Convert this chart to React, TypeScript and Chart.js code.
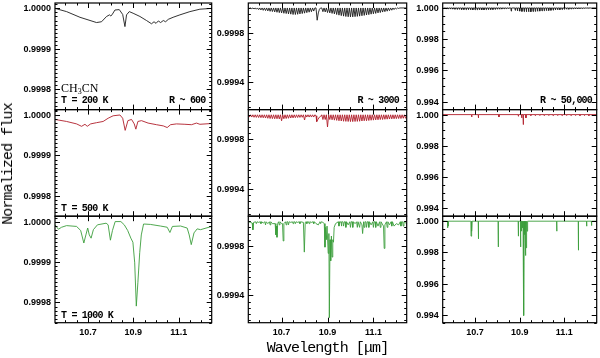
import React, { useEffect, useRef } from "react";
import { Chart, registerables } from "chart.js";
Chart.register(...registerables);

// ---------------- data ----------------
const X_MIN = 10.555;
const X_MAX = 11.245;
const xTickLabels = [10.7, 10.9, 11.1];

// R ~ 600 panels (smooth)
const c1r1X = [10.555, 10.606, 10.665, 10.738, 10.760, 10.782, 10.795, 10.801, 10.808, 10.819, 10.838, 10.853, 10.863, 10.870, 10.882, 10.899, 10.929, 10.958, 10.980, 10.991, 11.000, 11.010, 11.020, 11.032, 11.042, 11.054, 11.075, 11.105, 11.149, 11.193, 11.245];
const c1r1Y = [1.0, 0.999992, 0.999978, 0.999965, 0.999967, 0.99998, 0.999984, 0.999981, 0.999986, 0.999996, 0.999997, 0.999985, 0.999955, 0.999984, 0.999992, 0.999988, 0.99998, 0.99997, 0.999962, 0.999967, 0.999963, 0.999969, 0.999965, 0.99997, 0.999967, 0.999973, 0.999978, 0.999984, 0.999992, 0.999998, 1.0];

const c1r2X = [10.555, 10.606, 10.650, 10.672, 10.687, 10.697, 10.712, 10.738, 10.767, 10.789, 10.811, 10.841, 10.853, 10.864, 10.876, 10.892, 10.904, 10.911, 10.920, 10.936, 10.965, 11.002, 11.032, 11.049, 11.064, 11.090, 11.127, 11.156, 11.178, 11.193, 11.245];
const c1r2Y = [0.999989, 0.999984, 0.999978, 0.999972, 0.999977, 0.999972, 0.999978, 0.999981, 0.999984, 0.999992, 0.999998, 1.0, 0.999992, 0.999962, 0.999986, 0.999989, 0.999978, 0.999965, 0.999984, 0.999986, 0.99998, 0.999976, 0.999973, 0.999969, 0.999976, 0.999978, 0.999977, 0.999976, 0.99998, 0.999977, 0.999979];

const c1r3X = [10.555, 10.570, 10.584, 10.606, 10.650, 10.668, 10.682, 10.691, 10.699, 10.706, 10.714, 10.724, 10.742, 10.780, 10.789, 10.799, 10.808, 10.820, 10.845, 10.860, 10.875, 10.889, 10.898, 10.906, 10.913, 10.920, 10.928, 10.935, 10.945, 10.975, 11.019, 11.049, 11.061, 11.072, 11.108, 11.137, 11.146, 11.155, 11.167, 11.181, 11.196, 11.245];
const c1r3Y = [0.999992, 0.999981, 0.999986, 0.99999, 0.999988, 0.999978, 0.999947, 0.999967, 0.999984, 0.999967, 0.999959, 0.99998, 0.999992, 0.999996, 0.999992, 0.999954, 0.999978, 1.0, 1.0, 0.999992, 0.999978, 0.999959, 0.999949, 0.999898, 0.999791, 0.99985, 0.999923, 0.999967, 0.999994, 0.999993, 0.999989, 0.999986, 0.999973, 0.999988, 0.999989, 0.999984, 0.999967, 0.999943, 0.999972, 0.999982, 0.99998, 0.999988];

// R ~ 3000 panels
const c2r1ShapeX = [10.555, 10.850, 10.855, 10.860, 10.865, 10.870, 11.220, 11.245];
const c2r1ShapeY = [1.0, 1.0, 0.999901, 0.99996, 0.99999, 1.0, 1.0, 1.0];
const c2r1LineX = [10.56, 10.57, 10.58, 10.59, 10.60, 10.61, 10.62, 10.63, 10.64, 10.65, 10.66, 10.67, 10.68, 10.69, 10.70, 10.71, 10.72, 10.73, 10.74, 10.75, 10.76, 10.77, 10.78, 10.79, 10.80, 10.81, 10.82, 10.83, 10.84,
  10.88, 10.89, 10.90, 10.91, 10.92, 10.93, 10.94, 10.95, 10.96, 10.97, 10.98, 10.99, 11.00, 11.01, 11.02, 11.03, 11.04, 11.05, 11.06, 11.07, 11.08, 11.09, 11.10, 11.11, 11.12, 11.13, 11.14, 11.15, 11.16, 11.17, 11.18, 11.19, 11.20, 11.21];
const c2r1LineY = [0.999997, 0.999994, 0.999992, 0.99999, 0.999987, 0.999984, 0.999981, 0.999979, 0.999976, 0.999973, 0.999971, 0.999968, 0.999965, 0.999962, 0.99996, 0.999957, 0.999955, 0.999952, 0.99995, 0.999947, 0.999947, 0.999949, 0.999952, 0.999955, 0.999958, 0.999962, 0.999966, 0.99997, 0.999975,
  0.99997, 0.999968, 0.999963, 0.99996, 0.999956, 0.999952, 0.999947, 0.999942, 0.999938, 0.999934, 0.999931, 0.999929, 0.999928, 0.999928, 0.99993, 0.999932, 0.999934, 0.999937, 0.99994, 0.999943, 0.999946, 0.99995, 0.999953, 0.999956, 0.99996, 0.999963, 0.999967, 0.99997, 0.999974, 0.999978, 0.999982, 0.999987, 0.999992, 0.999996];

const c2r2ShapeX = [10.555, 10.850, 10.853, 10.858, 10.865, 10.872, 11.245];
const c2r2ShapeY = [0.999996, 0.99999, 0.999943, 0.99996, 0.99998, 0.99999, 0.99999];
const c2r2LineX = [10.56, 10.57, 10.58, 10.59, 10.60, 10.61, 10.62, 10.63, 10.64, 10.65, 10.66, 10.67, 10.68, 10.69, 10.70, 10.71, 10.72, 10.73, 10.74, 10.75, 10.76, 10.77, 10.78, 10.79, 10.80, 10.81, 10.82, 10.83, 10.84,
  10.88, 10.89, 10.90, 10.91, 10.92, 10.93, 10.94, 10.95, 10.96, 10.97, 10.98, 10.99, 11.00, 11.01, 11.02, 11.03, 11.04, 11.05, 11.06, 11.07, 11.08, 11.09, 11.10, 11.11, 11.12, 11.13, 11.14, 11.15, 11.16, 11.17, 11.18, 11.19, 11.20, 11.21, 11.22, 11.23, 11.24];
const c2r2LineY = [0.99998, 0.99998, 0.999978, 0.999977, 0.999976, 0.999975, 0.999974, 0.999972, 0.99997, 0.999968, 0.999967, 0.999966, 0.999966, 0.999965, 0.99995, 0.999966, 0.999968, 0.99997, 0.999972, 0.999973, 0.999975, 0.999976, 0.999977, 0.999978, 0.999956, 0.99998, 0.99998, 0.99998, 0.99998,
  0.99996, 0.99996, 0.9999, 0.99996, 0.999958, 0.999955, 0.999953, 0.99995, 0.999948, 0.999946, 0.999945, 0.999944, 0.999943, 0.999943, 0.999944, 0.999945, 0.999946, 0.999948, 0.99995, 0.99995, 0.999952, 0.999954, 0.999955, 0.999957, 0.999958, 0.99996, 0.99996, 0.999962, 0.999963, 0.999964, 0.999965, 0.999966, 0.999967, 0.999968, 0.999968, 0.99997, 0.99997, 0.99997];

const c2r3X = [10.555, 10.565, 10.572, 10.575, 10.578, 10.600, 10.620, 10.640, 10.660, 10.672, 10.675, 10.678, 10.680, 10.683, 10.700, 10.704, 10.707, 10.710, 10.740, 10.770, 10.795, 10.799, 10.803, 10.830, 10.850, 10.860, 10.866, 10.880, 10.886, 10.889, 10.892, 10.895, 10.898, 10.903, 10.906, 10.908, 10.911, 10.914, 10.917, 10.920, 10.923, 10.926, 10.929, 10.935, 10.960, 10.990, 11.020, 11.050, 11.053, 11.056, 11.090, 11.120, 11.144, 11.147, 11.150, 11.170, 11.190, 11.200, 11.210, 11.245];
const c2r3Y = [0.999995, 0.99999, 0.999985, 0.99993, 0.99999, 0.99999, 0.999985, 0.99998, 0.99998, 0.99998, 0.99989, 0.99996, 0.99987, 0.99998, 0.99998, 0.99998, 0.99984, 0.99998, 0.99999, 0.99999, 0.99999, 0.99975, 0.99999, 0.99999, 0.99998, 0.99997, 0.99999, 0.99999, 0.99998, 0.99979, 0.99995, 0.99985, 0.99996, 0.99974, 0.9999, 0.99922, 0.99985, 0.99968, 0.99988, 0.99971, 0.99985, 0.99983, 0.99995, 0.99998, 0.99998, 0.99997, 0.99998, 0.99997, 0.9999, 0.99997, 0.99997, 0.99996, 0.99996, 0.99978, 0.99997, 0.99997, 0.99996, 0.99998, 0.99997, 0.99998];
// weak comb along the continuum of the T = 1000 K, R ~ 3000 panel
const c2r3CombX = [10.59, 10.61, 10.63, 10.65, 10.69, 10.72, 10.73, 10.75, 10.76, 10.78, 10.81, 10.82, 10.84, 10.87, 10.95, 10.96, 10.97, 10.98, 11.00, 11.01, 11.03, 11.04, 11.06, 11.07, 11.08, 11.10, 11.11, 11.13, 11.16, 11.18, 11.22, 11.23];
const c2r3CombY = [0.99998, 0.99998, 0.99997, 0.99997, 0.99997, 0.99997, 0.99997, 0.99998, 0.99998, 0.99998, 0.99998, 0.99998, 0.99998, 0.99998, 0.99996, 0.99996, 0.99996, 0.99995, 0.99995, 0.99995, 0.99995, 0.99995, 0.99995, 0.99995, 0.99995, 0.99995, 0.99995, 0.99995, 0.99995, 0.99996, 0.99996, 0.99996];

// R ~ 50,000 panels
const c3r1ShapeX = [10.555, 11.245];
const c3r1ShapeY = [1.0, 1.0];
const c3r1LineX = [10.56, 10.57, 10.58, 10.59, 10.60, 10.61, 10.62, 10.63, 10.64, 10.65, 10.66, 10.67, 10.68, 10.69, 10.70, 10.71, 10.72, 10.73, 10.74, 10.75, 10.76, 10.77, 10.78, 10.79, 10.80, 10.81, 10.82, 10.83, 10.84, 10.85, 10.862,
  10.88, 10.89, 10.90, 10.91, 10.92, 10.93, 10.94, 10.95, 10.96, 10.97, 10.98, 10.99, 11.00, 11.01, 11.02, 11.03, 11.04, 11.05, 11.06, 11.07, 11.08, 11.09, 11.10, 11.11, 11.12, 11.13, 11.14, 11.15, 11.16, 11.17, 11.18, 11.19, 11.20, 11.21, 11.22];
const c3r1LineY = [0.99996, 0.99995, 0.99994, 0.99993, 0.99993, 0.99992, 0.99991, 0.99991, 0.9999, 0.9999, 0.99989, 0.99989, 0.99988, 0.99988, 0.99988, 0.99988, 0.99988, 0.99988, 0.99988, 0.99989, 0.99989, 0.9999, 0.9999, 0.99991, 0.99992, 0.99992, 0.99993, 0.99994, 0.99995, 0.99996, 0.9998,
  0.99985, 0.99982, 0.9998, 0.99978, 0.99977, 0.99976, 0.99976, 0.99976, 0.99977, 0.99978, 0.99979, 0.9998, 0.99981, 0.99982, 0.99983, 0.99984, 0.99985, 0.99986, 0.99987, 0.99988, 0.99989, 0.9999, 0.99991, 0.99992, 0.99992, 0.99993, 0.99994, 0.99994, 0.99995, 0.99996, 0.99996, 0.99997, 0.99998, 0.99998, 0.99999];

const c3r2ShapeX = [10.555, 11.245];
const c3r2ShapeY = [1.0, 1.0];
const c3r2LineX = [10.685, 10.715, 10.807, 10.894, 10.909, 10.916, 10.928, 10.95, 10.97, 10.99, 11.01, 11.03, 11.05, 11.07, 11.09, 11.11, 11.13, 11.15, 11.17, 11.19, 11.21, 11.23];
const c3r2LineY = [0.99985, 0.99979, 0.99985, 0.99989, 0.99979, 0.99936, 0.99979, 0.99994, 0.99993, 0.99994, 0.99993, 0.99994, 0.99993, 0.99994, 0.99993, 0.99994, 0.99993, 0.99994, 0.99993, 0.99994, 0.99993, 0.99994];

const c3r3ShapeX = [10.555, 11.245];
const c3r3ShapeY = [1.0, 1.0];
const c3r3LineX = [10.577, 10.580, 10.682, 10.686, 10.715, 10.804, 10.894, 10.904, 10.908, 10.912, 10.915, 10.919, 10.923, 10.926, 10.929, 10.933, 10.936, 11.066, 11.163, 11.200, 11.222];
const c3r3LineY = [0.99957, 0.99968, 0.99904, 0.99936, 0.99887, 0.99835, 0.99904, 0.99835, 0.99936, 0.99957, 0.9995, 0.99395, 0.99915, 0.9978, 0.99829, 0.99936, 0.9996, 0.99936, 0.99814, 0.99968, 0.99972];

// ---------------- helpers ----------------
type Pt = { x: number; y: number };
const pts = (xs: number[], ys: number[]): Pt[] => xs.map((x, i) => ({ x, y: ys[i] }));
const lines = (xs: number[], ys: number[], half: number, cont: number): Pt[] => {
  const out: Pt[] = [];
  xs.forEach((x, i) => {
    out.push({ x: x - half, y: cont }, { x, y: ys[i] }, { x: x + half, y: cont });
  });
  return out;
};
const merged = (...arrs: Pt[][]): Pt[] => arrs.flat().sort((a, b) => a.x - b.x);

const COLS = [
  { left: 55, right: 211.7 },
  { left: 248.3, right: 406.7 },
  { left: 442.7, right: 596.7 },
];
const ROWS = [
  { top: 3, bottom: 109.6 },
  { top: 109.6, bottom: 216.2 },
  { top: 216.2, bottom: 322.7 },
];
const COLORS = ["#1c1c1c", "#b01e2a", "#3c9e3c"];

const YAXES = [
  { min: 0.99975, max: 1.0000133, majors: [0.9998, 0.9999, 1.0], labels: [0.9998, 0.9999, 1.0], dec: 4, minor: 0.00001 },
  { min: 0.99918, max: 1.00004, majors: [0.9994, 0.9998], labels: [0.9994, 0.9998], dec: 4, minor: 0.00005 },
  { min: 0.99349, max: 1.00032, majors: [0.994, 0.996, 0.998, 1.0], labels: [0.994, 0.996, 0.998, 1.0], dec: 3, minor: 0.0005 },
];

const PANEL_DATA: Pt[][][] = [
  [pts(c1r1X, c1r1Y), merged(pts(c2r1ShapeX, c2r1ShapeY), lines(c2r1LineX, c2r1LineY, 0.005, 1.0)), merged(pts(c3r1ShapeX, c3r1ShapeY), lines(c3r1LineX, c3r1LineY, 0.0015, 1.0))],
  [pts(c1r2X, c1r2Y), merged(pts(c2r2ShapeX, c2r2ShapeY), lines(c2r2LineX, c2r2LineY, 0.005, 0.999998)), merged(pts(c3r2ShapeX, c3r2ShapeY), lines(c3r2LineX, c3r2LineY, 0.0008, 1.0))],
  [pts(c1r3X, c1r3Y), merged(pts(c2r3X, c2r3Y), lines(c2r3CombX, c2r3CombY, 0.003, 0.999995)), merged(pts(c3r3ShapeX, c3r3ShapeY), lines(c3r3LineX, c3r3LineY, 0.0008, 1.0))],
];

const PAD_L = 46;

function Panel({ row, col }: { row: number; col: number }) {
  const ref = useRef<HTMLCanvasElement>(null);
  const c = COLS[col];
  const r = ROWS[row];
  const ya = YAXES[col];
  const showX = row === 2;
  const cl = Math.floor(c.left) - PAD_L;
  const ct = Math.floor(r.top) - 3;
  const cr = Math.ceil(c.right) + 3;
  const cb = Math.ceil(r.bottom) + (showX ? 20 : 3);
  const W = cr - cl;
  const H = cb - ct;

  useEffect(() => {
    const canvas = ref.current!;
    const axesPlugin = {
      id: "axesframe",
      afterDatasetsDraw(chart: any) {
        const { ctx, chartArea: a, scales } = chart;
        const xs = scales.x;
        const ys = scales.y;
        ctx.save();
        ctx.strokeStyle = "#000";
        ctx.lineWidth = 1;
        ctx.beginPath();
        const k0 = Math.ceil(ya.min / ya.minor - 1e-6);
        const k1 = Math.floor(ya.max / ya.minor + 1e-6);
        for (let k = k0; k <= k1; k++) {
          const py = Math.round(ys.getPixelForValue(k * ya.minor)) + 0.5;
          ctx.moveTo(a.left, py); ctx.lineTo(a.left + 2.5, py);
          ctx.moveTo(a.right, py); ctx.lineTo(a.right - 2.5, py);
        }
        ya.majors.forEach((v) => {
          const py = Math.round(ys.getPixelForValue(v)) + 0.5;
          ctx.moveTo(a.left, py); ctx.lineTo(a.left + 5, py);
          ctx.moveTo(a.right, py); ctx.lineTo(a.right - 5, py);
        });
        const xm0 = Math.ceil(X_MIN / 0.05 - 1e-6);
        const xm1 = Math.floor(X_MAX / 0.05 + 1e-6);
        for (let k = xm0; k <= xm1; k++) {
          const px = Math.round(xs.getPixelForValue(k * 0.05)) + 0.5;
          ctx.moveTo(px, a.bottom); ctx.lineTo(px, a.bottom - 2.5);
          ctx.moveTo(px, a.top); ctx.lineTo(px, a.top + 2.5);
        }
        xTickLabels.forEach((v) => {
          const px = Math.round(xs.getPixelForValue(v)) + 0.5;
          ctx.moveTo(px, a.bottom); ctx.lineTo(px, a.bottom - 5);
          ctx.moveTo(px, a.top); ctx.lineTo(px, a.top + 5);
        });
        ctx.stroke();
        ctx.lineWidth = 1.2;
        ctx.strokeRect(a.left, a.top, a.right - a.left, a.bottom - a.top);
        ctx.fillStyle = "#000";
        ctx.font = "bold 9px 'Liberation Sans', Arial, sans-serif";
        ctx.textAlign = "right";
        ctx.textBaseline = "middle";
        ya.labels.forEach((v) => {
          ctx.fillText(v.toFixed(ya.dec), a.left - 4, ys.getPixelForValue(v) + 0.5);
        });
        if (showX) {
          ctx.textAlign = "center";
          ctx.textBaseline = "top";
          xTickLabels.forEach((v) => {
            ctx.fillText(v.toFixed(1), xs.getPixelForValue(v), a.bottom + 5);
          });
        }
        ctx.restore();
      },
    };
    const chart = new Chart(canvas, {
      type: "line",
      data: {
        datasets: [
          {
            data: PANEL_DATA[row][col] as any,
            borderColor: COLORS[row],
            borderWidth: 0.9,
            pointRadius: 0,
            fill: false,
            tension: 0,
          },
        ],
      },
      options: {
        animation: false,
        responsive: false,
        events: [],
        layout: {
          padding: {
            left: c.left - cl,
            right: cr - c.right,
            top: r.top - ct,
            bottom: cb - r.bottom,
          },
        },
        scales: {
          x: { type: "linear", min: X_MIN, max: X_MAX, display: false },
          y: { type: "linear", min: ya.min, max: ya.max, display: false },
        },
        plugins: { legend: { display: false }, tooltip: { enabled: false } },
      },
      plugins: [axesPlugin],
    } as any);
    return () => chart.destroy();
  }, []);

  return (
    <canvas
      ref={ref}
      width={W}
      height={H}
      style={{ position: "absolute", left: cl, top: ct, width: W, height: H }}
    />
  );
}

const monoLabel: React.CSSProperties = {
  position: "absolute",
  fontFamily: "'Liberation Mono', 'DejaVu Sans Mono', monospace",
  fontWeight: "bold",
  fontSize: 10,
  letterSpacing: -0.8,
  lineHeight: "10px",
  whiteSpace: "nowrap",
  color: "#000",
};

export default function App() {
  const panels = [];
  for (let r = 0; r < 3; r++) for (let c = 0; c < 3; c++) panels.push(<Panel key={`${r}-${c}`} row={r} col={c} />);
  return (
    <div style={{ position: "fixed", left: 0, top: 0, width: 600, height: 358, background: "#fff", overflow: "hidden" }}>
      {panels}
      <div style={{ position: "absolute", left: 61, top: 81.5, fontFamily: "'Liberation Serif', serif", fontSize: 12, lineHeight: "12px", whiteSpace: "nowrap" }}>
        CH<sub style={{ fontSize: 8, verticalAlign: "-2px" }}>3</sub>CN
      </div>
      <div style={{ ...monoLabel, left: 61, top: 96 }}>T = 200 K</div>
      <div style={{ ...monoLabel, right: 600 - 205.5, top: 96 }}>R ~ 600</div>
      <div style={{ ...monoLabel, right: 600 - 399, top: 96 }}>R ~ 3000</div>
      <div style={{ ...monoLabel, right: 600 - 592, top: 96 }}>R ~ 50,000</div>
      <div style={{ ...monoLabel, left: 61, top: 204 }}>T = 500 K</div>
      <div style={{ ...monoLabel, left: 61, top: 311 }}>T = 1000 K</div>
      <div
        style={{
          position: "absolute",
          left: 327.5,
          top: 349,
          transform: "translate(-50%, -50%)",
          fontFamily: "'Liberation Mono', monospace",
          fontSize: 15,
          letterSpacing: -0.9,
          whiteSpace: "nowrap",
          lineHeight: "16px",
        }}
      >
        Wavelength [μm]
      </div>
      <div
        style={{
          position: "absolute",
          left: 9,
          top: 164,
          transform: "translate(-50%, -50%) rotate(-90deg)",
          fontFamily: "'Liberation Mono', monospace",
          fontSize: 15,
          letterSpacing: -0.9,
          whiteSpace: "nowrap",
          lineHeight: "16px",
        }}
      >
        Normalized flux
      </div>
    </div>
  );
}
